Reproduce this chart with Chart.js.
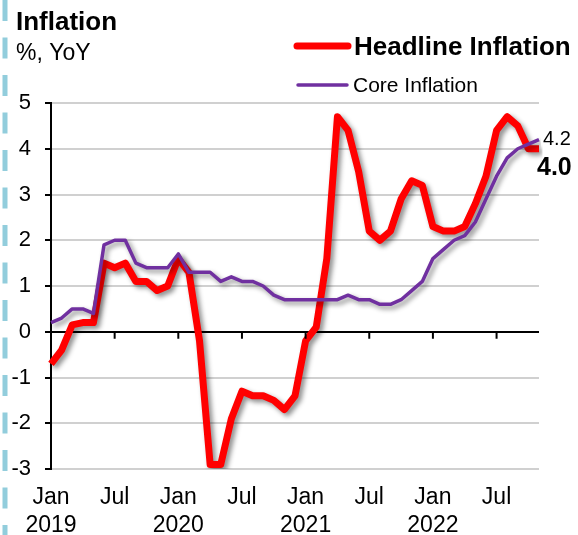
<!DOCTYPE html>
<html>
<head>
<meta charset="utf-8">
<script src="https://cdn.jsdelivr.net/npm/chart.js@4.4.0/dist/chart.umd.min.js"></script>
<style>
  html, body { margin: 0; padding: 0; background: #fff; }
</style>
</head>
<body>
<canvas id="myChart" width="578" height="535"></canvas>
<script>
// months Jan 2019 .. Nov 2022
const months = [
  '2019-01','2019-02','2019-03','2019-04','2019-05','2019-06','2019-07','2019-08','2019-09','2019-10','2019-11','2019-12',
  '2020-01','2020-02','2020-03','2020-04','2020-05','2020-06','2020-07','2020-08','2020-09','2020-10','2020-11','2020-12',
  '2021-01','2021-02','2021-03','2021-04','2021-05','2021-06','2021-07','2021-08','2021-09','2021-10','2021-11','2021-12',
  '2022-01','2022-02','2022-03','2022-04','2022-05','2022-06','2022-07','2022-08','2022-09','2022-10','2022-11'
];
const headline = [
  -0.7, -0.4, 0.15, 0.2, 0.2, 1.5, 1.4, 1.5, 1.1, 1.1, 0.9, 1.0,
  1.6, 1.3, -0.2, -2.9, -2.9, -1.9, -1.3, -1.4, -1.4, -1.5, -1.7, -1.4,
  -0.2, 0.1, 1.6, 4.7, 4.4, 3.5, 2.2, 2.0, 2.2, 2.9, 3.3, 3.2,
  2.3, 2.2, 2.2, 2.3, 2.8, 3.4, 4.4, 4.7, 4.5, 4.0, 4.0
];
const core = [
  0.2, 0.3, 0.5, 0.5, 0.4, 1.9, 2.0, 2.0, 1.5, 1.4, 1.4, 1.4,
  1.7, 1.3, 1.3, 1.3, 1.1, 1.2, 1.1, 1.1, 1.0, 0.8, 0.7, 0.7,
  0.7, 0.7, 0.7, 0.7, 0.8, 0.7, 0.7, 0.6, 0.6, 0.7, 0.9, 1.1,
  1.6, 1.8, 2.0, 2.1, 2.4, 2.9, 3.4, 3.8, 4.0, 4.1, 4.2
];
const monthNames = {'01': 'Jan', '07': 'Jul'};
const yMin = -3;
const yMax = 5;

const FONT = "'Liberation Sans', Arial, sans-serif";
const RED = '#ff0000';
const PURPLE = '#7030a0';

// x label for a category: Jan gets the year underneath, Jul alone, rest blank
function xLabel(m) {
  const parts = m.split('-');
  const name = monthNames[parts[1]];
  if (!name) return '';
  if (name == 'Jan') return [name, parts[0]];
  return name;
}

// header: stripe, title, subtitle, legend
const header = {
  id: 'header',
  beforeDraw(chart) {
    const c = chart.ctx;
    c.save();
    c.strokeStyle = '#92cddc';
    c.lineWidth = 5;
    c.setLineDash([21, 16.5]);
    c.beginPath();
    c.moveTo(5, 0);
    c.lineTo(5, chart.height);
    c.stroke();
    c.setLineDash([]);

    c.fillStyle = '#000';
    c.textBaseline = 'alphabetic';
    c.font = 'bold 26px ' + FONT;
    c.fillText('Inflation', 16, 30);
    c.font = '23px ' + FONT;
    c.fillText('%, YoY', 16, 60);

    c.lineCap = 'round';
    c.strokeStyle = RED;
    c.lineWidth = 7;
    c.beginPath();
    c.moveTo(297, 46);
    c.lineTo(348, 46);
    c.stroke();
    c.font = 'bold 26px ' + FONT;
    c.fillText('Headline Inflation', 354, 55);

    c.strokeStyle = PURPLE;
    c.lineWidth = 3.5;
    c.beginPath();
    c.moveTo(298, 85);
    c.lineTo(347, 85);
    c.stroke();
    c.font = '21px ' + FONT;
    c.fillText('Core Inflation', 353, 92);
    c.restore();
  }
};

// soft drop shadow under each line, like the office chart
const shadow = {
  id: 'shadow',
  beforeDatasetDraw(chart) {
    const c = chart.ctx;
    c.save();
    c.shadowColor = 'rgba(0,0,0,0.45)';
    c.shadowBlur = 5;
    c.shadowOffsetX = 3;
    c.shadowOffsetY = 3;
  },
  afterDatasetDraw(chart) {
    chart.ctx.restore();
  }
};

// tick marks hanging under the zero line + end value labels
const extras = {
  id: 'extras',
  afterDatasetsDraw(chart) {
    const c = chart.ctx;
    const xs = chart.scales.x;
    const ys = chart.scales.y;
    const y0 = ys.getPixelForValue(0);
    c.save();
    c.strokeStyle = '#000';
    c.lineWidth = 2;
    months.forEach((m, i) => {
      if (i == 0 || xLabel(m) === '') return;
      const x = xs.getPixelForValue(i);
      c.beginPath();
      c.moveTo(x, y0);
      c.lineTo(x, y0 + 7);
      c.stroke();
    });

    const last = months.length - 1;
    const pc = chart.getDatasetMeta(1).data[last];
    const ph = chart.getDatasetMeta(0).data[last];
    c.fillStyle = '#000';
    c.font = '20px ' + FONT;
    c.fillText(core[last].toFixed(1), pc.x + 4, pc.y + 5);
    c.font = 'bold 25px ' + FONT;
    c.fillText(headline[last].toFixed(1), ph.x - 2, ph.y + 26);
    c.restore();
  }
};

new Chart(document.getElementById('myChart'), {
  type: 'line',
  data: {
    labels: months,
    datasets: [{
      label: 'Headline Inflation',
      data: headline,
      borderColor: RED,
      borderWidth: 7,
      pointRadius: 0,
      borderJoinStyle: 'round',
      tension: 0,
      order: 2
    }, {
      label: 'Core Inflation',
      data: core,
      borderColor: PURPLE,
      borderWidth: 3.5,
      pointRadius: 0,
      borderJoinStyle: 'round',
      tension: 0,
      order: 1
    }]
  },
  options: {
    responsive: false,
    animation: false,
    devicePixelRatio: 1,
    layout: { padding: { top: 103, right: 39, left: 0, bottom: 0 } },
    plugins: {
      legend: { display: false },
      tooltip: { enabled: false }
    },
    scales: {
      x: {
        grid: { display: false, drawTicks: false },
        border: { display: false },
        ticks: {
          autoSkip: false,
          maxRotation: 0,
          padding: 15,
          color: '#000',
          font: { family: FONT, size: 23 },
          callback: function(v, i) { return xLabel(months[i]); }
        },
        afterFit(scale) { scale.height = 66; }
      },
      y: {
        min: yMin,
        max: yMax,
        ticks: {
          stepSize: 1,
          padding: 14,
          color: '#000',
          font: { family: FONT, size: 22 }
        },
        grid: {
          color: ctx => ctx.tick && ctx.tick.value === 0 ? '#000' : '#d0d0d0',
          lineWidth: 2,
          tickColor: '#000',
          tickLength: 6
        },
        border: { color: '#000', width: 2 },
        afterFit(scale) { scale.width = 51; }
      }
    }
  },
  plugins: [header, shadow, extras]
});
</script>
</body>
</html>
